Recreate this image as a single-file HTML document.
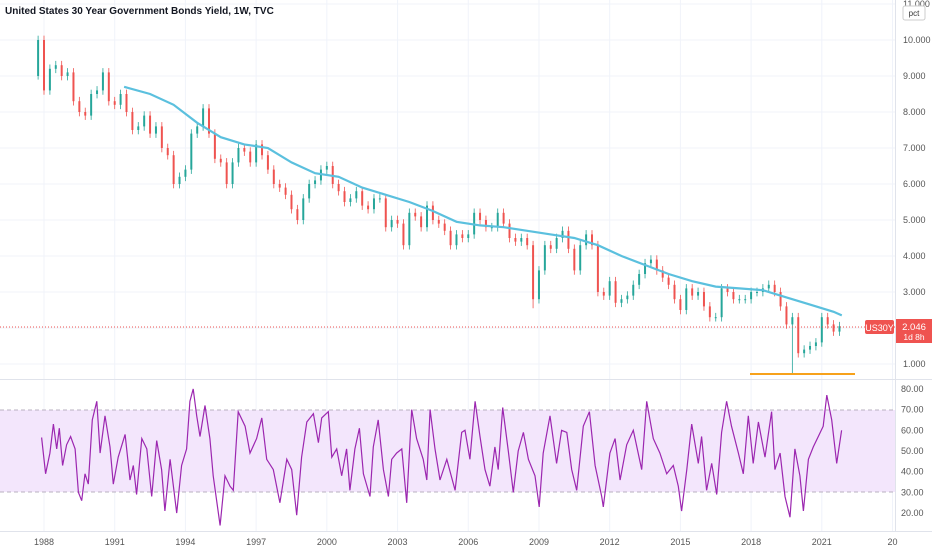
<!DOCTYPE html>
<html><head><meta charset="utf-8">
<style>
body{margin:0;background:#fff;font-family:"Liberation Sans",sans-serif;}
svg{display:block}
</style></head>
<body>
<svg id="c" width="932" height="550" xmlns="http://www.w3.org/2000/svg">
<rect width="932" height="550" fill="#fff"/>
<g id="grid"></g>
<rect x="0" y="410" width="895" height="82" fill="#f3e6fc"/>
<line x1="0" y1="410" x2="895" y2="410" stroke="#b8b0c0" stroke-dasharray="4,3"/>
<line x1="0" y1="492" x2="895" y2="492" stroke="#b8b0c0" stroke-dasharray="4,3"/>
<line x1="0" y1="379.5" x2="932" y2="379.5" stroke="#e0e3eb"/>
<line x1="895.5" y1="0" x2="895.5" y2="531" stroke="#e0e3eb"/>
<line x1="0" y1="531.5" x2="932" y2="531.5" stroke="#e0e3eb"/>
<g id="candles"></g>
<path id="ma" fill="none" stroke="#5bc0de" stroke-width="2.2"/>
<line x1="0" y1="327" x2="895" y2="327" stroke="#ef5350" stroke-dasharray="1,2"/>
<line x1="750" y1="374" x2="855" y2="374" stroke="#f7a21b" stroke-width="2"/>
<path id="rsi" fill="none" stroke="#9c27b0" stroke-width="1.2"/>
<g id="axes" font-size="9" fill="#555"></g>
<text x="5" y="14" font-size="10" font-weight="bold" fill="#131722">United States 30 Year Government Bonds Yield, 1W, TVC</text>
<rect x="903" y="6" width="22" height="14" rx="2" fill="#fff" stroke="#ccc"/>
<text x="914" y="16" font-size="8" fill="#333" text-anchor="middle">pct</text>
<rect x="865" y="320" width="29" height="14" rx="2" fill="#ef5350"/>
<text x="879.5" y="331" font-size="9" fill="#fff" text-anchor="middle">US30Y</text>
<rect x="896" y="319" width="36" height="24" fill="#ef5350"/>
<text x="914" y="330" font-size="9.5" fill="#fff" text-anchor="middle">2.046</text>
<text x="914" y="340" font-size="8.5" fill="#fff" text-anchor="middle">1d 8h</text>
</svg>
<script>
const priceStart = 1987.75;
const closes = [10.0,
8.6,9.2,9.3,9.0, 9.1,8.3,8.0,7.9, 8.5,8.6,9.1,8.3, 8.2,8.5,8.0,7.5, 7.6,7.9,7.4,7.6,
7.0,6.8,6.0,6.2, 6.4,7.4,7.6,8.1, 7.4,6.7,6.6,6.0, 6.6,7.0,6.9,6.6, 7.1,6.8,6.4,6.0,
5.9,5.7,5.3,5.0, 5.6,6.0,6.1,6.4, 6.5,6.0,5.8,5.5, 5.6,5.8,5.4,5.3, 5.6,5.6,4.8,5.0,
4.9,4.3,5.2,5.1, 4.8,5.4,5.0,4.9, 4.7,4.3,4.6,4.5, 4.6,5.2,5.0,4.8, 4.8,5.2,4.9,4.5,
4.4,4.5,4.3,2.8, 3.6,4.3,4.2,4.5, 4.7,4.2,3.6,4.3, 4.6,4.3,3.0,2.9, 3.3,2.7,2.8,2.9,
3.2,3.5,3.8,3.9, 3.6,3.4,3.2,2.8, 2.5,3.1,2.9,3.0, 2.6,2.3,2.3,3.1, 3.0,2.8,2.8,2.8,
3.0,3.0,3.1,3.2, 3.0,2.6,2.1,2.3, 1.3,1.4,1.5,1.6, 2.3,2.1,1.9,2.05];
const lowSpikes = {128:0.75, 0:8.9, 84:2.55};
const maYears = [1991.4,1992.5,1993.5,1994.5,1995.5,1996.5,1997.5,1998.5,1999.5,2000.5,2001.5,2002.5,2003.5,2004.5,2005.5,2006.5,2007.5,2008.5,2009.5,2010.5,2011.5,2012.5,2013.5,2014.5,2015.5,2016.5,2017.5,2018.5,2019.5,2020.5,2021.5,2021.85];
const maVals = [8.7,8.5,8.2,7.7,7.3,7.1,7.0,6.6,6.3,6.2,5.9,5.7,5.5,5.25,4.95,4.85,4.8,4.7,4.6,4.5,4.3,4.0,3.75,3.5,3.3,3.15,3.1,3.05,2.85,2.65,2.45,2.35];
const rsiYears = [1987.90,1988.07,1988.25,1988.40,1988.54,1988.65,1988.79,1988.96,1989.13,1989.32,1989.46,1989.60,1989.74,1989.88,1990.05,1990.24,1990.38,1990.59,1990.80,1990.94,1991.15,1991.44,1991.65,1991.79,1991.93,1992.15,1992.36,1992.57,1992.78,1992.99,1993.13,1993.35,1993.63,1993.84,1994.05,1994.19,1994.33,1994.48,1994.62,1994.83,1995.04,1995.18,1995.47,1995.68,1995.89,1996.03,1996.24,1996.53,1996.74,1997.02,1997.24,1997.45,1997.73,1998.01,1998.30,1998.51,1998.72,1998.93,1999.15,1999.43,1999.64,1999.78,2000.06,2000.21,2000.42,2000.63,2000.84,2000.98,2001.19,2001.38,2001.55,2001.83,2001.97,2002.18,2002.40,2002.61,2002.75,2002.96,2003.18,2003.39,2003.60,2003.81,2004.09,2004.24,2004.38,2004.59,2004.80,2005.09,2005.44,2005.72,2005.86,2006.07,2006.29,2006.50,2006.71,2006.92,2007.13,2007.27,2007.46,2007.70,2007.91,2008.12,2008.34,2008.55,2008.83,2009.01,2009.18,2009.47,2009.75,2009.96,2010.18,2010.39,2010.60,2010.88,2011.14,2011.38,2011.66,2011.73,2012.01,2012.23,2012.44,2012.72,2013.00,2013.36,2013.57,2013.85,2014.13,2014.42,2014.70,2014.91,2015.05,2015.27,2015.48,2015.76,2015.90,2016.11,2016.33,2016.54,2016.75,2016.96,2017.17,2017.46,2017.67,2017.88,2018.09,2018.31,2018.59,2018.87,2019.01,2019.23,2019.44,2019.65,2019.86,2020.07,2020.22,2020.43,2020.64,2020.85,2021.06,2021.21,2021.42,2021.63,2021.84];
const rsiVals = [56.5,39,49,63,51,61,43,53,57,51,30,26,39,34,65,74,49,67,52,34,47,58,36,43,29,56,51,28,55,41,21,46,20,43,51,74,80,67,57,72,56,38,14,38,33,31,69,62,49,56,66,46,41,25,46,41,19,47,64,68,54,66,69,47,51,38,51,31,51,61,39,28,52,65,41,28,46,49,51,25,70,56,46,36,70,51,36,46,31,59,60,46,74,57,41,33,52,41,71,50,30,50,59,46,38,23,49,67,44,60,59,41,31,62,69,43,28,23,49,56,36,53,60,41,74,56,49,39,43,33,21,41,63,44,57,31,44,29,59,74,62,49,39,67,44,64,47,69,41,49,28,18,51,38,21,46,52,57,62,77,65,44,60];
const priceTicks = [1,2,3,4,5,6,7,8,9,10,11];
const rsiTicks = [20,30,40,50,60,70,80];
const yearTicks = [1988,1991,1994,1997,2000,2003,2006,2009,2012,2015,2018,2021,2024];

const NS="http://www.w3.org/2000/svg";
const X = y => 44 + (y-1988)*23.57;
const Y = v => 364 - (v-1)*36;
const R = v => 451 - (v-50)*2.07;
function mk(tag, attrs, parent){const e=document.createElementNS(NS,tag);for(const k in attrs)e.setAttribute(k,attrs[k]);parent.appendChild(e);return e;}
const grid=document.getElementById('grid'), axes=document.getElementById('axes'), cg=document.getElementById('candles');
priceTicks.forEach(v=>{
  const l=mk('line',{x1:0,x2:895,y1:Y(v),y2:Y(v),stroke:'#f0f3fa'},grid);
  
  
  const t=mk('text',{x:903,y:Y(v)+3},axes);t.textContent=v.toFixed(3);
  
  
});
rsiTicks.forEach(v=>{
  const t=mk('text',{x:901,y:R(v)+3},axes);t.textContent=v.toFixed(2);
  
  
});
yearTicks.forEach(yr=>{
  const l=mk('line',{x1:X(yr),x2:X(yr),y1:0,y2:531,stroke:'#f0f3fa'},grid);
  
  
  const t=mk('text',{x:X(yr),y:545,'text-anchor':'middle'},axes);t.textContent=yr===2024?'20':String(yr);
  
  
});
closes.forEach((c,i)=>{
  const o = i===0 ? 9.0 : closes[i-1];
  const yr = priceStart + i*0.25;
  const x = X(yr);
  const up = c>=o, col = up?'#26a69a':'#ef5350';
  const hi = Math.max(o,c)+0.12, lo = (lowSpikes[i]!==undefined)?lowSpikes[i]:Math.min(o,c)-0.12;
  const w=mk('line',{x1:x,x2:x,y1:Y(hi),y2:Y(lo),stroke:col,'stroke-width':0.8},cg);
  
  
  const b=mk('rect',{x:x-1,y:Y(Math.max(o,c)),width:2,height:Math.max(1,Math.abs(Y(o)-Y(c))),fill:col},cg);
  
  
});
let d='';
maYears.forEach((yr,i)=>{d+=(i?'L':'M')+X(yr).toFixed(1)+','+Y(maVals[i]).toFixed(1);});
document.getElementById('ma').setAttribute('d',d);
d='';
rsiYears.forEach((yr,i)=>{d+=(i?'L':'M')+X(yr).toFixed(1)+','+R(rsiVals[i]).toFixed(1);});
document.getElementById('rsi').setAttribute('d',d);
</script>
</body></html>
